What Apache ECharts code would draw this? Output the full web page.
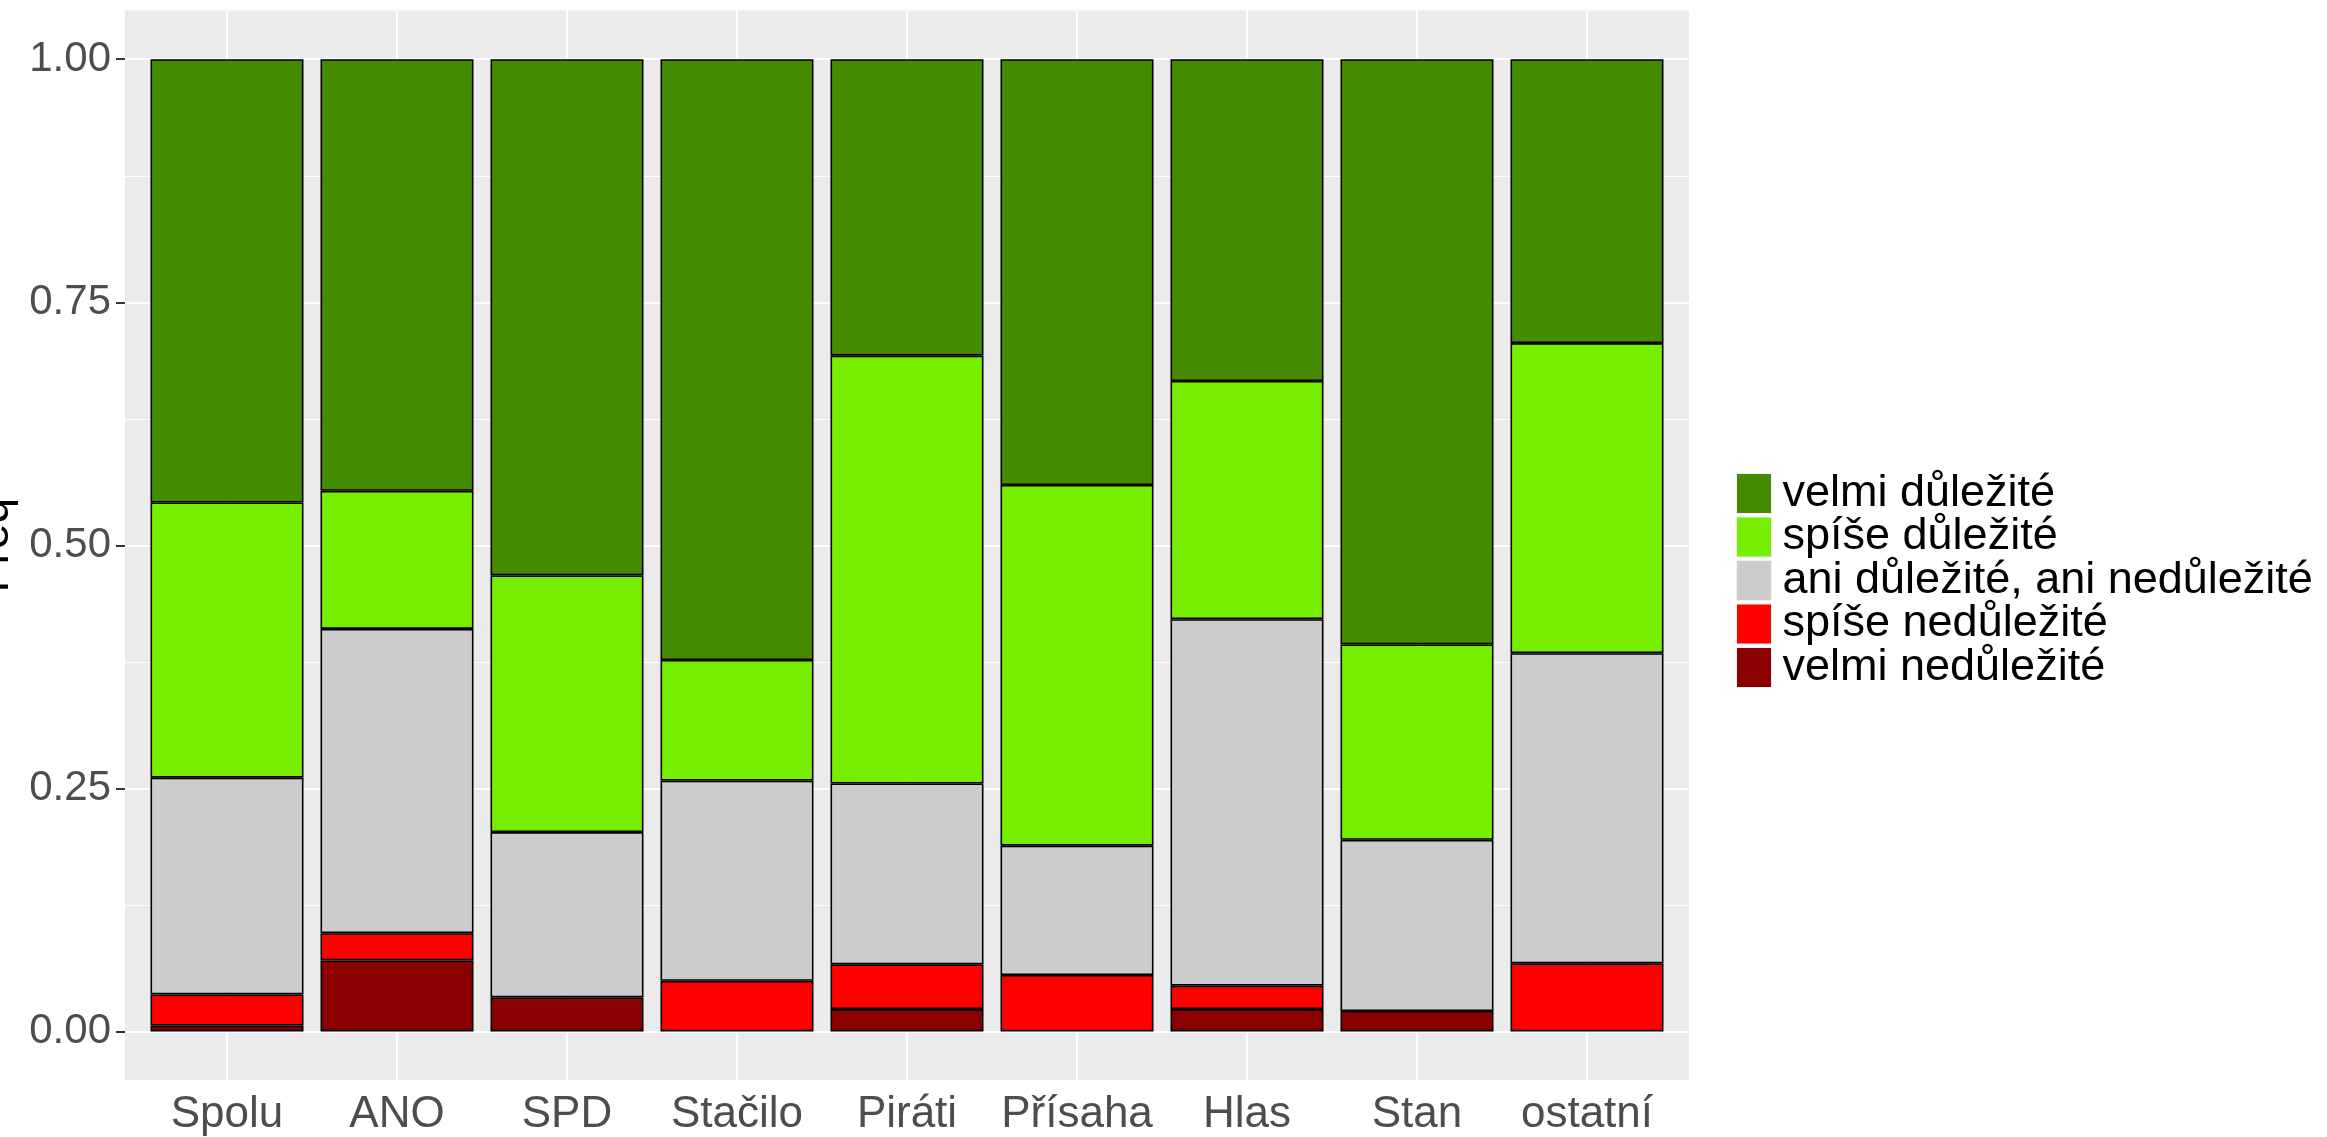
<!DOCTYPE html>
<html><head><meta charset="utf-8">
<script src="https://cdn.jsdelivr.net/npm/echarts@6/dist/echarts.min.js"></script>
<style>html,body{margin:0;padding:0;background:#fff}#c{width:2327px;height:1137px}</style>
</head><body><div id="c"></div>
<script>
const categories = ['Spolu','ANO','SPD','Stačilo','Piráti','Přísaha','Hlas','Stan','ostatní'];
const levelNames = ['velmi nedůležité','spíše nedůležité','ani důležité, ani nedůležité','spíše důležité','velmi důležité'];
const levelColors = ['#8B0000','#FF0000','#CCCCCC','#76EE00','#458B00'];
const velmiNedulezite = [0.006,0.073,0.035,0,0.023,0,0.023,0.021,0];
const spiseNedulezite = [0.032,0.028,0,0.052,0.046,0.058,0.024,0,0.070];
const aniAni          = [0.223,0.313,0.170,0.206,0.186,0.133,0.377,0.176,0.319];
const spiseDulezite   = [0.283,0.142,0.264,0.124,0.440,0.371,0.245,0.201,0.319];
const velmiDulezite   = [0.456,0.444,0.531,0.618,0.305,0.438,0.331,0.602,0.292];
const yTicks = [0,0.25,0.5,0.75,1];
const yMinor = [0.125,0.375,0.625,0.875];

const levelValues = [velmiNedulezite, spiseNedulezite, aniAni, spiseDulezite, velmiDulezite];
const xPos = categories.map((c,i)=>i+1);
const FONT = 'Liberation Sans, Arial, sans-serif';

const chart = echarts.init(document.getElementById('c'), null, {renderer:'canvas'});

// bars: grid 0 (category axis, 9 bands of equal width = ggplot units)
const barSeries = levelNames.map((name, k) => ({
  name: name,
  type: 'bar',
  stack: 'total',
  xAxisIndex: 0, yAxisIndex: 0,
  z: 3,
  barWidth: '90%',
  itemStyle: {color: levelColors[k], borderColor: '#000', borderWidth: 1.6},
  emphasis: {disabled: true},
  data: levelValues[k].map(v => v > 0 ? v : '-')
}));

// panel gridlines: grid 1 (full panel incl. expansion)
const gridSeries = {
  name: 'grid', type: 'line', data: [], z: 1, silent: true,
  xAxisIndex: 1, yAxisIndex: 1,
  markLine: {
    z: 1, silent: true, symbol: ['none','none'], label: {show:false}, animation:false,
    data: [
      ...yMinor.map(v => ({yAxis: v, lineStyle:{color:'#fff', width:1.1, type:'solid'}})),
      ...yTicks.map(v => ({yAxis: v, lineStyle:{color:'#fff', width:2.2, type:'solid'}})),
      ...xPos.map(v => ({xAxis: v, lineStyle:{color:'#fff', width:2.2, type:'solid'}}))
    ]
  }
};

const PANEL = {left: 125, right: 638, top: 10.6, bottom: 57};
const UNIT = (2327 - PANEL.left - PANEL.right) / 9.2;

chart.setOption({
  animation: false,
  backgroundColor: '#fff',
  textStyle: {fontFamily: FONT},
  grid: [
    {left: PANEL.left + 0.1*UNIT, right: PANEL.right + 0.1*UNIT, top: PANEL.top, bottom: PANEL.bottom,
     show: false, outerBoundsMode: 'none', containLabel: false, z: 2},
    {left: PANEL.left, right: PANEL.right, top: PANEL.top, bottom: PANEL.bottom,
     show: true, backgroundColor: '#EBEBEB', borderWidth: 0, outerBoundsMode: 'none', containLabel: false, z: 0}
  ],
  xAxis: [
    {type: 'category', gridIndex: 0, data: categories, show: false},
    {
      type: 'value', gridIndex: 1, min: 0.4, max: 9.6,
      axisLine: {show:false},
      splitLine: {show:false},
      axisTick: {show:true, customValues: xPos, length: 9, lineStyle:{color:'#333', width:2}},
      axisLabel: {customValues: xPos, margin: 13, color:'#4D4D4D', fontSize: 44, fontFamily: FONT,
        formatter: v => categories[Math.round(v)-1] || ''}
    }
  ],
  yAxis: [
    {type: 'value', gridIndex: 0, min: -0.05, max: 1.05, show: false},
    {
      type: 'value', gridIndex: 1, min: -0.05, max: 1.05,
      name: 'Freq', nameLocation: 'middle', nameGap: 102, nameRotate: 90,
      nameTextStyle: {fontSize: 46, color:'#000', fontFamily: FONT},
      axisLine: {show:false},
      splitLine: {show:false},
      axisTick: {show:true, customValues: yTicks, length: 9, lineStyle:{color:'#333', width:2}},
      axisLabel: {customValues: yTicks, margin: 14, color:'#4D4D4D', fontSize: 42, fontFamily: FONT,
        formatter: v => v.toFixed(2)}
    }
  ],
  legend: {
    orient: 'vertical', left: 1731, top: 466,
    data: levelNames.slice().reverse(),
    icon: 'rect', itemWidth: 35, itemHeight: 40, itemGap: -1.5,
    itemStyle: {borderWidth: 1, borderColor: '#F2F2F2'},
    selectedMode: false,
    textStyle: {fontSize: 45, color:'#000', fontFamily: FONT, padding:[0,0,0,6], lineHeight: 40}
  },
  series: [gridSeries, ...barSeries]
});
</script></body></html>
